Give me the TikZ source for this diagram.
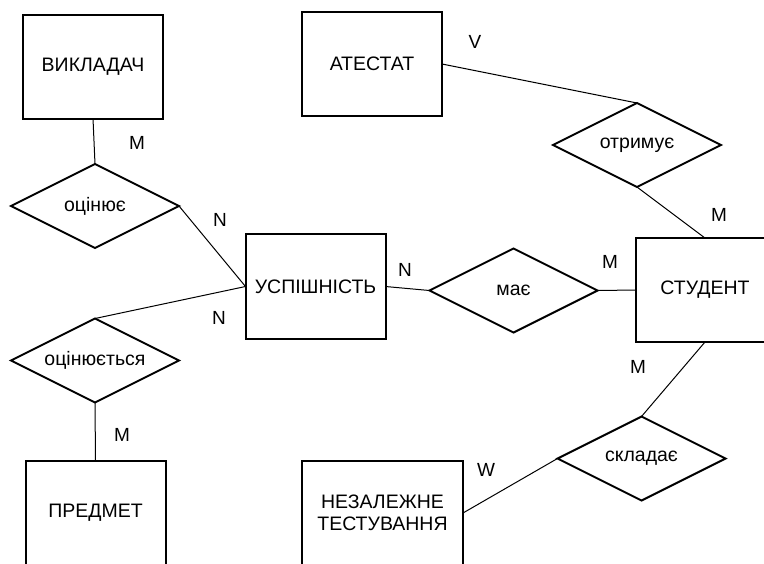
\documentclass[tikz,border=0pt]{standalone}
\usepackage{fontspec}
\setmainfont{Liberation Sans}
\usepackage{tikz}
\usetikzlibrary{shapes.geometric}
\tikzstyle{entity} = [rectangle, draw=black, line width=2pt, minimum width=140pt, minimum height=104pt, inner sep=0pt, outer sep=0pt, text centered, font=\fontsize{19.5}{22.5}\selectfont]
\tikzstyle{link} = [line width=1pt, black]

\begin{document}
\begin{tikzpicture}[x=1pt, y=-1pt,
		relation/.style={diamond, aspect=2, draw=black, line width=2pt, minimum width=168pt, minimum height=84pt, inner sep=0pt, outer sep=0pt, font=\fontsize{19.5}{22}\selectfont},
		card/.style={inner sep=0pt, font=\fontsize{19}{22}\selectfont}]
		
		\clip (0,0) rectangle (764,563);
		
		\node (viklad) [entity] at (93,66.5) {ВИКЛАДАЧ};
		\node (atestat) [entity] at (372,64) {АТЕСТАТ};
		\node (uspish) [entity, minimum height=105pt] at (315.5,286.5) {УСПІШНІСТЬ};
		\node (student) [entity, minimum width=138pt] at (705,290) {СТУДЕНТ};
		\node (predmet) [entity] at (95.5,513) {ПРЕДМЕТ};
		\node (test) [entity, minimum width=161pt, align=center] at (382.5,513) {НЕЗАЛЕЖНЕ\\ТЕСТУВАННЯ};
		
		\node (otsin) [relation] at (95,206) {оцінює};
		\node (otsinsya) [relation] at (95,360.5) {оцінюється};
		\node (maye) [relation] at (513.5,290.5) {має};
		\node (otrym) [relation] at (637,145) {отримує};
		\node (sklad) [relation] at (641.5,458.5) {складає};
		
		\draw[link] (viklad.south) -- (otsin.north);
		\draw[link] (otsin.east) -- (uspish.west);
		\draw[link] (otsinsya.north) -- (uspish.west);
		\draw[link] (otsinsya.south) -- (predmet.north);
		\draw[link] (uspish.east) -- (maye.west);
		\draw[link] (maye.east) -- (student.west);
		\draw[link] (atestat.east) -- (otrym.north);
		\draw[link] (otrym.south) -- (student.north);
		\draw[link] (student.south) -- (sklad.north);
		\draw[link] (sklad.west) -- (test.east);
		
		\node (cardvo) [card] at (137,143) {M};
		\node (cardou) [card] at (220,220) {N};
		\node (cardsu) [card] at (219,318) {N};
		\node (cardsp) [card] at (122,435) {M};
		\node (cardat) [card] at (475,42) {V};
		\node (cardst) [card] at (719,215) {M};
		\node (cardmu) [card] at (405,270) {N};
		\node (cardms) [card] at (610,262) {M};
		\node (cardks) [card] at (638,367) {M};
		\node (cardkt) [card] at (486,470) {W};
	\end{tikzpicture}
\end{document}
